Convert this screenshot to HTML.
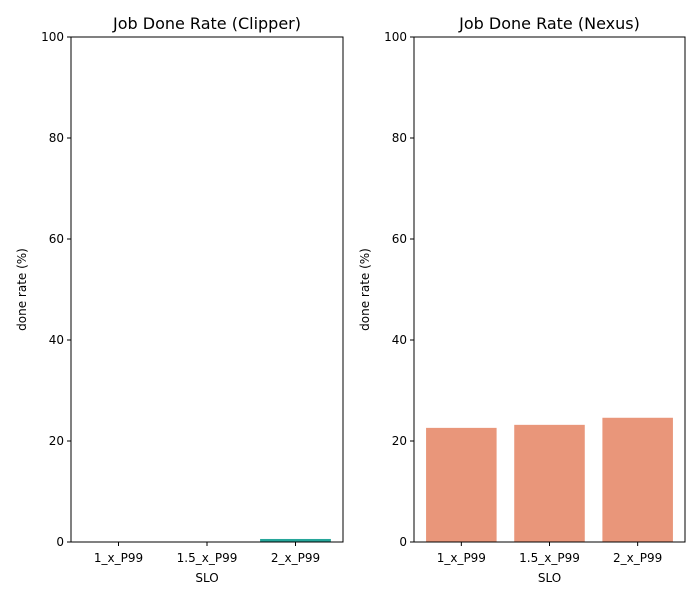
<!DOCTYPE html>
<html><head><meta charset="utf-8"><style>
body{margin:0;background:#fff;font-family:"Liberation Sans","DejaVu Sans",sans-serif}
svg text{font-family:"DejaVu Sans","Liberation Sans",sans-serif}
</style></head><body>
<svg id="c" width="700" height="600"></svg>
<script>
const categories=["1_x_P99","1.5_x_P99","2_x_P99"];
const clipperValues=[0,0,0.6];
const nexusValues=[22.6,23.2,24.6];
const yTicks=[0,20,40,60,80,100];
const NS="http://www.w3.org/2000/svg";
const svg=document.getElementById('c');
function mk(t,a,p){const e=document.createElementNS(NS,t);for(const k in a)e.setAttribute(k,a[k]);(p||svg).appendChild(e);return e;}
function panel(x0,x1,title,vals,color,name){
  const y0=542,y1=37;
  const g=mk('g',{});
  
  
  const ys=v=>y0-(v/100)*(y0-y1);
  const pad=(x1-x0)*0.012;
  const bw=(x1-x0-2*pad)/categories.length;
  const xs=i=>x0+pad+bw*(i+0.5);
  vals.forEach((v,i)=>{
    if(v<=0)return;
    const r=mk('rect',{x:xs(i)-bw*0.4,y:ys(v),width:bw*0.8,height:y0-ys(v),fill:color},g);
    
    
  });
  mk('rect',{x:x0,y:y1,width:x1-x0,height:y0-y1,fill:'none',stroke:'#000','stroke-width':1},g);
  yTicks.forEach(t=>{
    mk('line',{x1:x0-4,x2:x0,y1:ys(t),y2:ys(t),stroke:'#000'},g);
    const tx=mk('text',{x:x0-7,y:ys(t)+4,'text-anchor':'end','font-size':12},g);tx.textContent=t;
    
    
  });
  categories.forEach((c,i)=>{
    mk('line',{x1:xs(i),x2:xs(i),y1:y0,y2:y0+4,stroke:'#000'},g);
    const tx=mk('text',{x:xs(i),y:y0+20,'text-anchor':'middle','font-size':12},g);tx.textContent=c;
    
    
  });
  const xt=mk('text',{x:(x0+x1)/2,y:582,'text-anchor':'middle','font-size':12},g);xt.textContent='SLO';
  
  
  const yt=mk('text',{x:0,y:0,'text-anchor':'middle','font-size':12,transform:`translate(${x0-45},${(y0+y1)/2}) rotate(-90)`},g);yt.textContent='done rate (%)';
  
  
  const tt=mk('text',{x:(x0+x1)/2,y:29,'text-anchor':'middle','font-size':16},g);tt.textContent=title;
  
  
}
panel(71,343,'Job Done Rate (Clipper)',clipperValues,'#26a69a','clipper-panel');
panel(414,685,'Job Done Rate (Nexus)',nexusValues,'#e9967a','nexus-panel');
</script>
</body></html>
